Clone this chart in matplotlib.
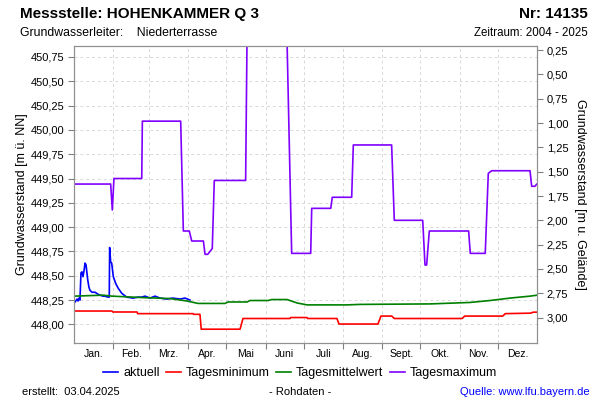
import matplotlib
matplotlib.use("Agg")
import matplotlib.pyplot as plt
from matplotlib.ticker import FuncFormatter, FixedLocator
import numpy as np

plt.rcParams['font.family'] = ['Liberation Sans', 'DejaVu Sans']

# ---- data ----
months = ["Jan.", "Feb.", "Mrz.", "Apr.", "Mai", "Juni", "Juli", "Aug.", "Sept.", "Okt.", "Nov.", "Dez."]
month_days = [31, 28, 31, 30, 31, 30, 31, 31, 30, 31, 30, 31]
ground_level = 451.07

akt_day = [0.8, 2.4, 3.2, 3.9, 4.7, 5.5, 6.3, 7.1, 7.9, 8.7, 9.5, 10.8, 11.8, 12.6, 14.2, 16.6,
           18.9, 20.5, 22.9, 24.4, 26.8, 27.8, 28.1, 28.9, 29.7, 31.0, 32.9, 34.9, 37.6, 41.5,
           46.5, 50.5, 53.4, 56.0, 59.9, 63.9, 67.8, 73.1, 78.0, 83.6, 87.5, 91.4]
akt_val = [448.23, 448.26, 448.24, 448.27, 448.25, 448.53, 448.54, 448.49, 448.55, 448.63, 448.61,
           448.46, 448.38, 448.35, 448.33, 448.33, 448.31, 448.30, 448.29, 448.29, 448.28, 448.28,
           448.79, 448.64, 448.63, 448.49, 448.42, 448.37, 448.32, 448.28, 448.27, 448.28, 448.28,
           448.29, 448.27, 448.29, 448.27, 448.26, 448.27, 448.26, 448.27, 448.25]

min_day = [0, 30, 30.5, 49.7, 50.2, 93.8, 94.3, 99.3, 100.3, 130.9, 133.2, 170.3, 170.8, 183.7,
           184.2, 207.3, 208.9, 239.6, 242.0, 250.5, 252.5, 306, 308, 338, 340, 360, 362, 365]
min_val = [448.137, 448.137, 448.127, 448.127, 448.11, 448.11, 448.103, 448.103, 447.95, 447.95,
           448.06, 448.06, 448.07, 448.07, 448.06, 448.06, 448.003, 448.003, 448.085, 448.085,
           448.06, 448.06, 448.085, 448.085, 448.11, 448.115, 448.125, 448.125]

mit_day = [0, 22.9, 30, 54.4, 75.7, 89, 97.8, 119, 121.5, 136.4, 138.8, 153, 156, 168, 175.8,
           183.7, 215, 225.5, 280.6, 312, 328, 343.7, 359.5, 365]
mit_val = [448.29, 448.30, 448.29, 448.275, 448.265, 448.24, 448.215, 448.215, 448.23, 448.23,
           448.245, 448.245, 448.255, 448.255, 448.22, 448.20, 448.20, 448.205, 448.21, 448.225,
           448.245, 448.27, 448.29, 448.30]

max_day = [0, 28.9, 30.2, 31.5, 53.4, 53.9, 84.1, 86.2, 90.9, 92.8, 102.0, 103.3, 105.4, 109.0,
           110.6, 135.3, 136.9, 166.8, 171.6, 186.6, 187.4, 202.4, 203.6, 218.9, 220.2, 250.4,
           252.5, 274.9, 276.7, 278.0, 280.1, 311.1, 312.4, 324.2, 326.6, 329.3, 359.5, 360.8,
           363.4, 364.8, 365]
max_val = [449.443, 449.443, 449.176, 449.50, 449.50, 450.09, 450.09, 448.96, 448.96, 448.857,
           448.857, 448.72, 448.72, 448.78, 449.48, 449.48, 451.6, 451.6, 448.73, 448.73, 449.193,
           449.193, 449.307, 449.307, 449.845, 449.845, 449.07, 449.07, 448.61, 448.61, 448.96,
           448.96, 448.73, 448.73, 449.553, 449.58, 449.58, 449.42, 449.42, 449.443, 449.443]

# ---- figure ----
fig = plt.figure(figsize=(6, 4), dpi=100)
ax = fig.add_axes([74/600, 1-343/400, (537-74)/600, (343-46)/400])

c_akt, c_min, c_mit, c_max = "#0000ff", "#ff0000", "#008000", "#8000ff"
l1, = ax.plot(akt_day, akt_val, color=c_akt, lw=1.2, label="aktuell")
l2, = ax.plot(min_day, min_val, color=c_min, lw=1.2, label="Tagesminimum")
l3, = ax.plot(mit_day, mit_val, color=c_mit, lw=1.2, label="Tagesmittelwert")
l4, = ax.plot(max_day, max_val, color=c_max, lw=1.2, label="Tagesmaximum")

ylo, yhi = 447.808, 450.863
ax.set_xlim(0, 365)
ax.set_ylim(ylo, yhi)

bounds = np.concatenate([[0], np.cumsum(month_days)])
mids = (bounds[:-1] + bounds[1:]) / 2
ax.xaxis.set_major_locator(FixedLocator(bounds[1:-1]))
ax.xaxis.set_major_formatter(FuncFormatter(lambda v, p: ""))
ax.xaxis.set_minor_locator(FixedLocator(mids))
ax.set_xticklabels(months, minor=True)
ax.tick_params(axis='x', which='minor', length=0, labelsize=7.5, pad=4)
ax.tick_params(axis='x', which='major', length=4, color="#808080")

yt = np.arange(448.0, 450.76, 0.25)
ax.set_yticks(yt)
fmt = FuncFormatter(lambda v, p: f"{v:.2f}".replace('.', ','))
ax.yaxis.set_major_formatter(fmt)
ax.tick_params(axis='y', labelsize=8, length=4, color="#808080", pad=3)
ax.grid(True, color="#d8d8d8", linestyle=(0, (3, 3)), lw=0.7)

for s in ax.spines.values():
    s.set_color("#909090")

ax2 = ax.twinx()
ax2.set_ylim(ground_level - ylo, ground_level - yhi)
ax2.set_yticks(np.arange(0.25, 3.01, 0.25))
ax2.yaxis.set_major_formatter(fmt)
ax2.tick_params(axis='y', labelsize=8, length=4, color="#808080", pad=3)
for s in ax2.spines.values():
    s.set_color("#909090")

fig.text(22/600, 1-194.5/400, "Grundwasserstand [m ü. NN]", rotation=90, ha='center', va='center', fontsize=9)
fig.text(580/600, 1-194.5/400, "Grundwasserstand [m u. Gelände]", rotation=270, ha='center', va='center', fontsize=9)

fig.text(20/600, 1-14/400, "Messstelle: HOHENKAMMER Q 3", fontsize=11, fontweight='bold', ha='left', va='center')
fig.text(588/600, 1-14/400, "Nr: 14135", fontsize=11, fontweight='bold', ha='right', va='center')
fig.text(20/600, 1-33/400, "Grundwasserleiter:    Niederterrasse", fontsize=8.8, ha='left', va='center')
fig.text(588/600, 1-33/400, "Zeitraum: 2004 - 2025", fontsize=8.3, ha='right', va='center')

fig.legend(handles=[l1, l2, l3, l4], loc='center', bbox_to_anchor=(0.5, 1-373/400), ncol=4,
           frameon=False, fontsize=9, handlelength=1.2, handletextpad=0.4, columnspacing=0.5)

fig.text(22/600, 1-392/400, "erstellt:  03.04.2025", fontsize=8, ha='left', va='center')
fig.text(0.5, 1-392/400, "- Rohdaten -", fontsize=8, ha='center', va='center')
fig.text(590/600, 1-392/400, "Quelle: www.lfu.bayern.de", fontsize=8, ha='right', va='center', color="#0000ff")

fig.savefig("out.png", dpi=100)
